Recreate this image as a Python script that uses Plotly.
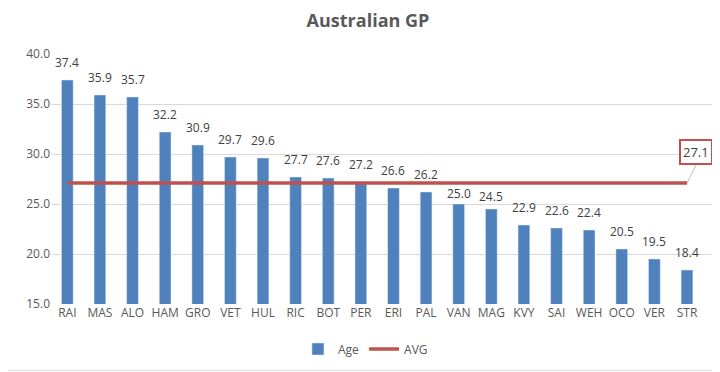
import plotly.graph_objects as go

drivers = ["RAI", "MAS", "ALO", "HAM", "GRO", "VET", "HUL", "RIC", "BOT", "PER",
           "ERI", "PAL", "VAN", "MAG", "KVY", "SAI", "WEH", "OCO", "VER", "STR"]
ages = [37.4, 35.9, 35.7, 32.2, 30.9, 29.7, 29.6, 27.7, 27.6, 27.2,
        26.6, 26.2, 25.0, 24.5, 22.9, 22.6, 22.4, 20.5, 19.5, 18.4]
avg_value = 27.1
avg = [avg_value] * len(drivers)
y_ticks = [15, 20, 25, 30, 35, 40]

font = "Open Sans, Lato, Arial, sans-serif"
# label offset (px) above bar top; a few were nudged down in the original
label_shift = {"VAN": 0, "MAG": 2}

fig = go.Figure()
fig.add_trace(go.Bar(
    x=drivers, y=ages, name="Age", marker_color="#4F81BD",
))
fig.add_trace(go.Scatter(
    x=drivers, y=avg, name="AVG", mode="lines",
    line=dict(color="#C0504D", width=3.5),
))
for d, v in zip(drivers, ages):
    fig.add_annotation(x=d, y=v, text=f"{v:.1f}", showarrow=False,
                       yanchor="bottom", yshift=label_shift.get(d, 7),
                       font=dict(size=12, color="#404040", family=font))
fig.add_annotation(
    x=drivers[-1], y=avg_value, text=f"{avg_value:.1f}",
    showarrow=True, arrowhead=0, arrowcolor="#BFBFBF", arrowwidth=1,
    ax=9, ay=-18, bordercolor="#C0504D", borderwidth=2, borderpad=2,
    bgcolor="white", font=dict(size=13, color="#404040", family=font),
    xanchor="center", yanchor="bottom",
)
fig.add_shape(type="line", xref="paper", yref="paper", x0=-0.07, x1=1.03,
              y0=-0.265, y1=-0.265, line=dict(color="#D9D9D9", width=1))
fig.update_layout(
    width=720, height=372,
    margin=dict(l=43, r=15, t=46, b=76),
    paper_bgcolor="white", plot_bgcolor="white",
    title=dict(text="<b>Australian GP</b>", x=0.5, xanchor="center",
               yref="container", y=0.965, yanchor="middle",
               font=dict(size=18, color="#595959", family=font)),
    bargap=0.64,
    showlegend=True,
    legend=dict(orientation="h", x=0.475, xanchor="center", y=-0.18, yanchor="middle",
                font=dict(size=12, color="#595959", family=font)),
    font=dict(family=font, color="#595959"),
)
fig.update_yaxes(range=[15, 40], tickvals=y_ticks, ticktext=[f"{v:.1f}" for v in y_ticks],
                 showgrid=True, gridcolor="#D9D9D9", zeroline=False, showline=False,
                 tickfont=dict(size=12, color="#595959"), ticks="", ticklen=0)
fig.update_xaxes(showline=False, showgrid=False, tickfont=dict(size=12, color="#595959"),
                 ticks="")
fig.write_html("out.html")
